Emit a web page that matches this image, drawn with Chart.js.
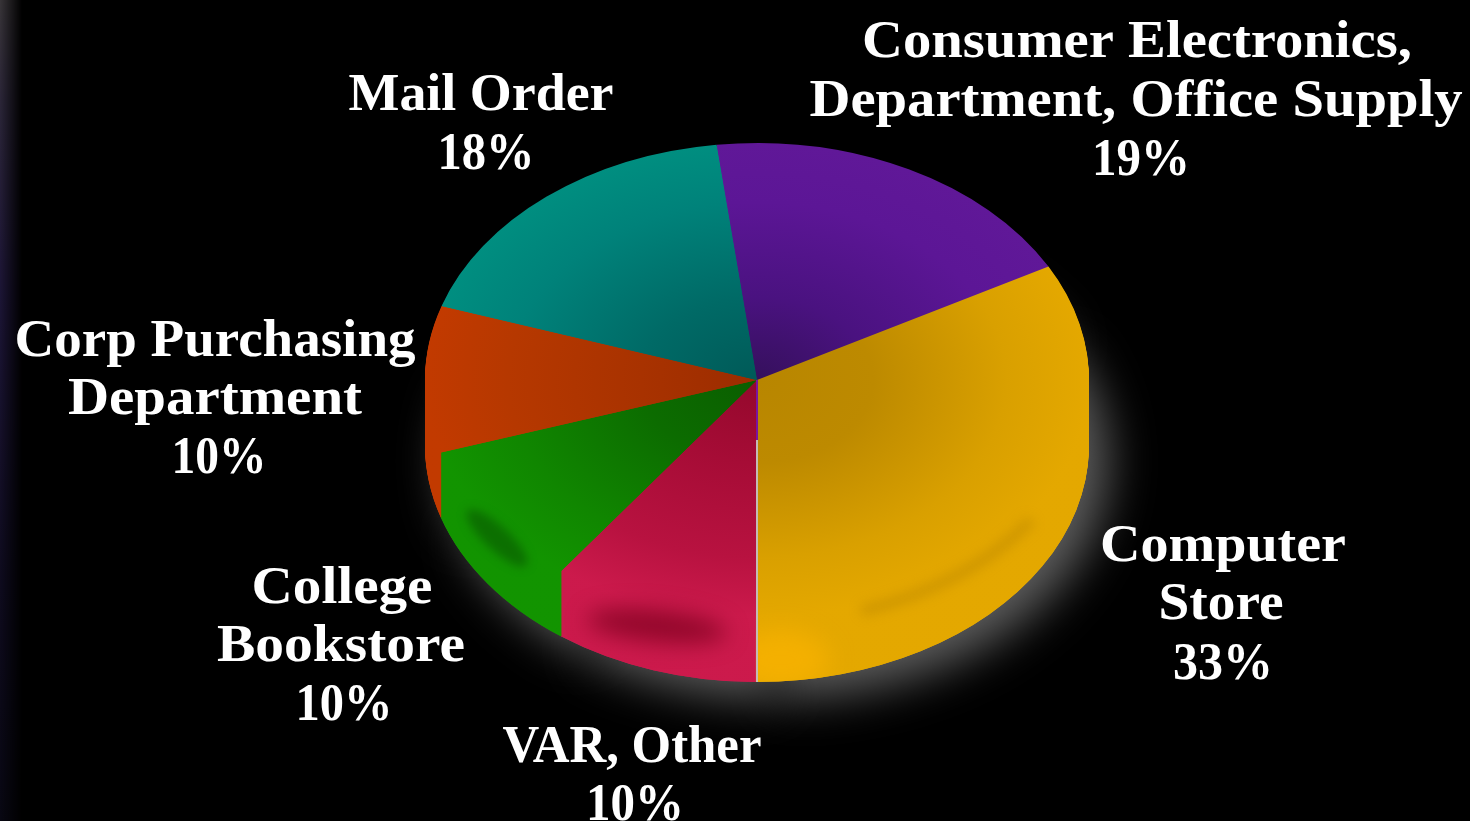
<!DOCTYPE html>
<html><head><meta charset="utf-8">
<script src="https://cdn.jsdelivr.net/npm/chart.js@4"></script>
<style>
html,body{margin:0;padding:0;background:#000;width:1470px;height:821px;overflow:hidden}
#edge{position:absolute;left:0;top:0;width:22px;height:821px;
background:linear-gradient(to bottom,rgba(62,58,62,.9) 0,rgba(48,42,62,.9) 12%,rgba(38,28,72,.75) 35%,rgba(26,20,56,.55) 70%,rgba(18,16,40,.45) 100%);
-webkit-mask-image:linear-gradient(to right,#000,transparent)}
canvas{position:absolute;left:0;top:0;display:block}
</style></head><body>
<div id="edge"></div>
<canvas id="c" width="1470" height="821"></canvas>
<script>
const categories = ["Consumer Electronics, Department, Office Supply","Computer Store","VAR, Other","College Bookstore","Corp Purchasing Department","Mail Order"];
const shares = [19,33,10,10,10,18];
const labelLines = [
  ["Consumer Electronics,","Department, Office Supply","19%"],
  ["Computer","Store","33%"],
  ["VAR, Other","10%"],
  ["College","Bookstore","10%"],
  ["Corp Purchasing","Department","10%"],
  ["Mail Order","18%"]
];
const ramps = [
  ["#35105c","#4a1280","#5c1696","#601898"],
  ["#b88600","#bd8a00","#d9a000","#e4a800"],
  ["#94082c","#a60c36","#b81240","#cc1a4c"],
  ["#0a5e00","#0c6c00","#108600","#129400"],
  ["#9c2c00","#a83200","#b63800","#c23a00"],
  ["#005a58","#006a66","#00827a","#008e80"]
];
const labelPlace = [
  {x:[1137,1136,1141],y:[57,116,175],w:[550,653,98]},
  {x:[1223,1221,1223],y:[561,619,679],w:[246,125,100]},
  {x:[632,635],y:[762,820],w:[259,98]},
  {x:[342,341,344],y:[603,661,720],w:[181,248,97]},
  {x:[215,215,219],y:[356,414,473],w:[401,294,95]},
  {x:[481,486],y:[110,169],w:[265,97]}
];
const squash = 237/332, depth = 65;

function rampFill(ctx){
  const c = ctx.chart, a = c.chartArea, r = ramps[ctx.dataIndex];
  if(!a) return r[3];
  const cx=(a.left+a.right)/2, cy=(a.top+a.bottom)/2, R=(a.right-a.left)/2;
  const g=c.ctx.createRadialGradient(cx,cy,0,cx,cy,R);
  g.addColorStop(0,r[0]); g.addColorStop(.35,r[1]); g.addColorStop(.75,r[2]); g.addColorStop(1,r[3]);
  return g;
}
const tilt = {
  id:'tilt',
  beforeDatasetsDraw(chart){
    const ctx=chart.ctx, arcs=chart.getDatasetMeta(0).data, cx=arcs[0].x, cy=arcs[0].y;
    ctx.save();
    // glow under the disc
    ctx.save();
    ctx.shadowColor='rgba(92,92,92,1)'; ctx.shadowBlur=46; ctx.shadowOffsetX=20; ctx.shadowOffsetY=16;
    ctx.translate(0,depth); ctx.translate(cx,cy); ctx.scale(1,squash); ctx.translate(-cx,-cy);
    arcs.forEach(a=>a.draw(ctx));
    ctx.restore();
    // body of the disc
    for(let d=depth;d>=1;d--){
      ctx.save();
      ctx.translate(0,d); ctx.translate(cx,cy); ctx.scale(1,squash); ctx.translate(-cx,-cy);
      arcs.forEach(a=>a.draw(ctx));
      ctx.restore();
    }
    ctx.translate(cx,cy); ctx.scale(1,squash); ctx.translate(-cx,-cy);
  },
  afterDatasetsDraw(chart){
    const ctx=chart.ctx, arcs=chart.getDatasetMeta(0).data, cx=arcs[0].x, cy=arcs[0].y, R=arcs[0].outerRadius;
    ctx.restore();
    const Ry=R*squash;
    // soft creases on the body, kept inside each slice
    const shade=(i,paint)=>{
      ctx.save();
      ctx.beginPath();
      for(let d=0;d<=depth;d+=1){
        ctx.save();
        ctx.translate(cx,cy+d); ctx.scale(1,squash);
        ctx.moveTo(0,0);
        ctx.arc(0,0,R,arcs[i].startAngle,arcs[i].endAngle);
        ctx.closePath();
        ctx.restore();
      }
      ctx.clip();
      paint();
      ctx.restore();
    };
    shade(2,()=>{
      ctx.filter='blur(11px)'; ctx.fillStyle='rgba(125,0,30,.72)';
      ctx.beginPath(); ctx.ellipse(cx-100,cy+246,70,16,.1,0,Math.PI*2); ctx.fill();
    });
    shade(3,()=>{
      ctx.filter='blur(5px)'; ctx.fillStyle='rgba(8,88,0,.62)';
      ctx.beginPath(); ctx.ellipse(cx-260,cy+158,40,12,.75,0,Math.PI*2); ctx.fill();
    });
    shade(1,()=>{
      ctx.filter='blur(6px)'; ctx.strokeStyle='rgba(175,125,0,.4)'; ctx.lineWidth=11;
      ctx.beginPath(); ctx.ellipse(cx,cy+6,R,Ry,0,.6,1.25); ctx.stroke();
      ctx.filter='blur(12px)'; ctx.fillStyle='rgba(255,182,0,.6)';
      ctx.beginPath(); ctx.ellipse(cx+24,cy+280,48,30,0,0,Math.PI*2); ctx.fill();
    });
    // seam at the front
    ctx.fillStyle='#7a14a0'; ctx.fillRect(cx-1,cy,2,depth-5);
    ctx.fillStyle='#c4bcb4'; ctx.fillRect(cx-1,cy+depth-5,2,Ry+5);
    // labels
    ctx.fillStyle='#fff';
    ctx.font='bold 52px "Liberation Serif"'; ctx.textAlign='center'; ctx.textBaseline='alphabetic';
    labelLines.forEach((lines,i)=>lines.forEach((t,j)=>{
      const p=labelPlace[i];
      ctx.save();
      ctx.translate(p.x[j],p.y[j]);
      ctx.scale(p.w[j]/ctx.measureText(t).width,1);
      ctx.fillText(t,0,0);
      ctx.restore();
    }));
  }
};
new Chart(document.getElementById('c'),{
  type:'pie',
  data:{labels:categories,datasets:[{data:shares,backgroundColor:rampFill,borderWidth:0,hoverOffset:0}]},
  options:{
    responsive:false,animation:false,events:[],rotation:-7,
    layout:{padding:{left:425,right:381,top:48,bottom:109}},
    plugins:{legend:{display:false},tooltip:{enabled:false},title:{display:false}}
  },
  plugins:[tilt]
});
</script>
</body></html>
